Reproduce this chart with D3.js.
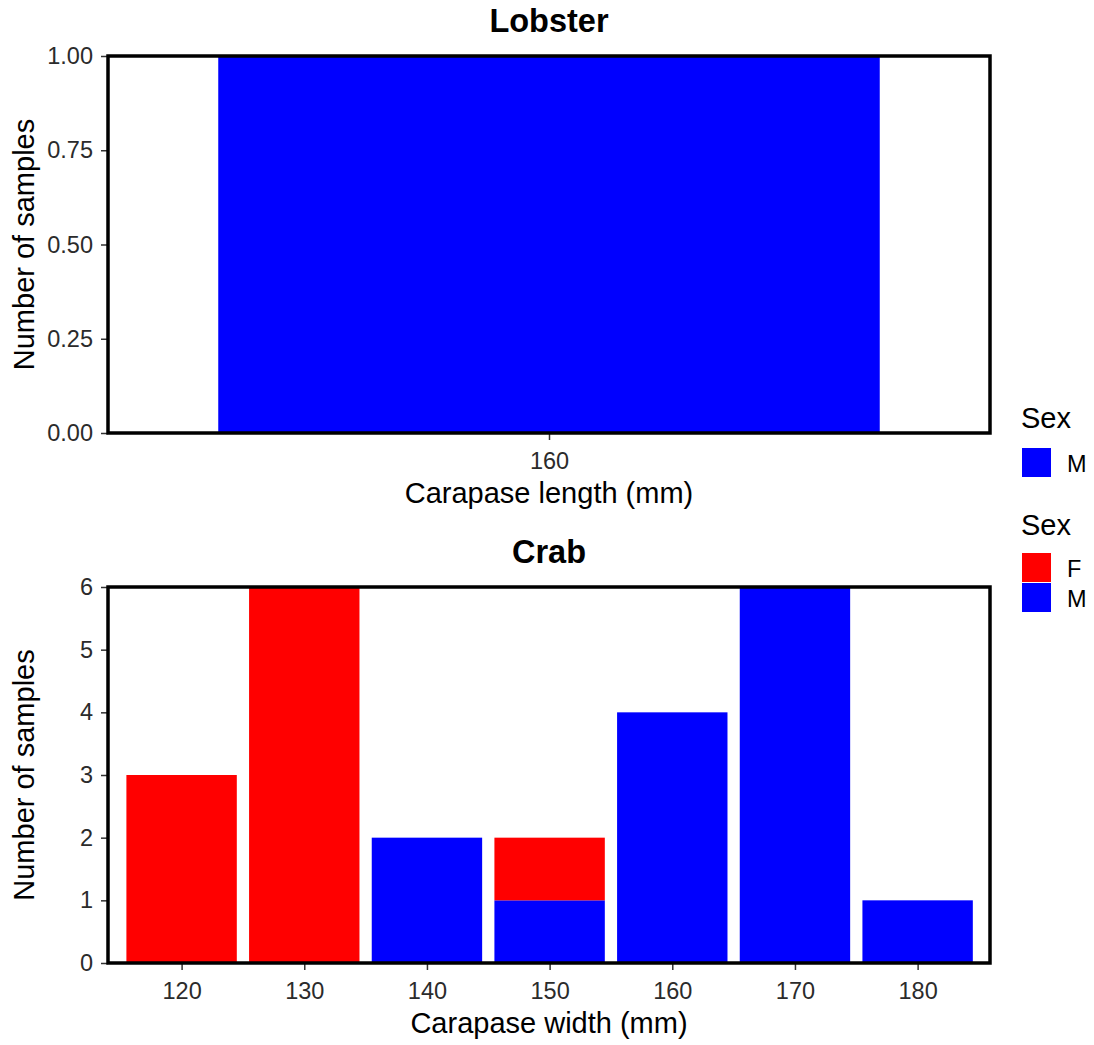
<!DOCTYPE html>
<html>
<head>
<meta charset="utf-8">
<script src="https://cdn.jsdelivr.net/npm/d3@7"></script>
<style>
  html, body { margin: 0; padding: 0; background: #fff; }
  svg { display: block; font-family: "Liberation Sans", Arial, sans-serif; }
  .tick text { fill: #2b2b2b; font-size: 23.5px; }
  .tick line { stroke: #333; stroke-width: 1.5; }
</style>
</head>
<body>
<svg id="chart" width="1094" height="1045"></svg>
<script>
  // Lobster panel
  var lobsterLengths = [160];
  var lobsterMale = [1];
  var lobsterYTicks = [0, 0.25, 0.5, 0.75, 1];

  // Crab panel
  var crabWidths = [120, 130, 140, 150, 160, 170, 180];
  var crabFemale = [3, 6, 0, 1, 0, 0, 0];
  var crabMale = [0, 0, 2, 1, 4, 6, 1];
  var crabYTicks = [0, 1, 2, 3, 4, 5, 6];

  var sexColor = { F: "#ff0000", M: "#0000ff" };

  var svg = d3.select("#chart");
  var left = 108, right = 990;

  function panel(opts) {
    var g = svg.append("g");
    var x = d3.scaleLinear().domain(opts.xDomain).range([left, right]);
    var y = d3.scaleLinear().domain(opts.yDomain).range([opts.bottom, opts.top]);

    // stacked bars: M at the bottom, F above
    var rows = opts.categories.map(function (c, i) {
      return { x: c, M: opts.male[i], F: opts.female ? opts.female[i] : 0 };
    });
    var stack = d3.stack().keys(["M", "F"])(rows);
    stack.forEach(function (layer) {
      g.append("g")
        .selectAll("rect")
        .data(layer.filter(function (d) { return d[1] > d[0]; }))
        .join("rect")
        .attr("x", function (d) { return x(d.data.x - opts.barWidth / 2); })
        .attr("width", function (d) { return x(d.data.x + opts.barWidth / 2) - x(d.data.x - opts.barWidth / 2); })
        .attr("y", function (d) { return y(d[1]); })
        .attr("height", function (d) { return y(d[0]) - y(d[1]); })
        .attr("fill", sexColor[layer.key]);
    });

    g.append("g")
      .attr("transform", "translate(" + left + ",0)")
      .call(d3.axisLeft(y).tickValues(opts.yTicks).tickFormat(d3.format(opts.yFormat)).tickSize(7).tickPadding(8))
      .call(function (a) { a.select(".domain").remove(); });

    g.append("g")
      .attr("transform", "translate(0," + opts.bottom + ")")
      .call(d3.axisBottom(x).tickValues(opts.categories).tickFormat(d3.format("d")).tickSize(7).tickPadding(12))
      .call(function (a) { a.select(".domain").remove(); });

    g.append("rect")
      .attr("x", left).attr("y", opts.top)
      .attr("width", right - left).attr("height", opts.bottom - opts.top)
      .attr("fill", "none").attr("stroke", "#000").attr("stroke-width", 3.5);

    g.append("text")
      .attr("x", (left + right) / 2).attr("y", opts.top - 24)
      .attr("text-anchor", "middle").attr("font-size", 32.5).attr("font-weight", "bold")
      .text(opts.title);

    g.append("text")
      .attr("x", (left + right) / 2).attr("y", opts.bottom + 70)
      .attr("text-anchor", "middle").attr("font-size", 29)
      .text(opts.xTitle);

    g.append("text")
      .attr("transform", "translate(34," + (opts.top + opts.bottom) / 2 + ") rotate(-90)")
      .attr("text-anchor", "middle").attr("font-size", 29)
      .text("Number of samples");
  }

  panel({
    title: "Lobster", xTitle: "Carapase length (mm)",
    categories: lobsterLengths, male: lobsterMale, female: null,
    xDomain: [159.4, 160.6], barWidth: 0.9,
    yDomain: [0, 1], yTicks: lobsterYTicks, yFormat: ".2f",
    top: 56, bottom: 433
  });

  panel({
    title: "Crab", xTitle: "Carapase width (mm)",
    categories: crabWidths, male: crabMale, female: crabFemale,
    xDomain: [114, 185.9], barWidth: 9,
    yDomain: [0, 6], yTicks: crabYTicks, yFormat: "d",
    top: 587, bottom: 963
  });

  function legend(titleY, keyTop, keys) {
    var lg = svg.append("g");
    lg.append("text").attr("x", 1021).attr("y", titleY).attr("font-size", 29).text("Sex");
    keys.forEach(function (k, i) {
      var ky = keyTop + i * 30;
      lg.append("rect").attr("x", 1022).attr("y", ky).attr("width", 29).attr("height", 29)
        .attr("fill", sexColor[k]);
      lg.append("text").attr("x", 1067).attr("y", ky + 14.5 + 9).attr("font-size", 23.5)
        .attr("fill", "#000").text(k);
    });
  }
  legend(428, 448, ["M"]);
  legend(535, 553, ["F", "M"]);
</script>
</body>
</html>
